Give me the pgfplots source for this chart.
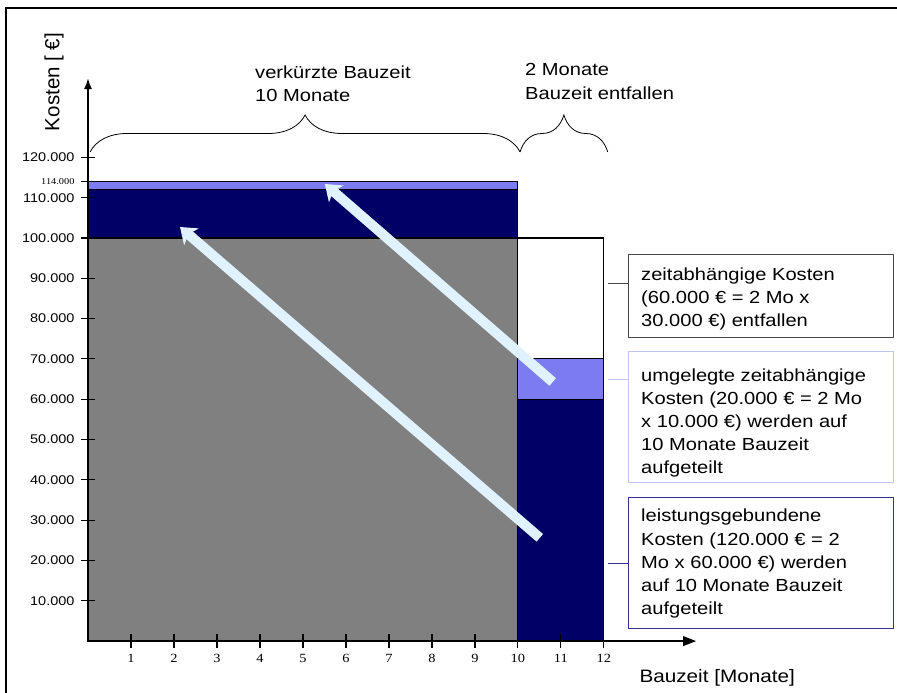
\documentclass[border=0pt]{standalone}
\usepackage{fontspec}
\setmainfont[FakeStretch=1.15]{Liberation Sans}
\newfontfamily\uprightsans{Liberation Sans}
\newfontfamily\tickserif[FakeStretch=1.15]{Liberation Serif}
\usepackage{pgfplots}
\pgfplotsset{compat=1.18}
\usetikzlibrary{decorations.pathreplacing, arrows.meta}

\definecolor{darknavy}{RGB}{0,0,102}
\definecolor{periwinkle}{RGB}{124,124,240}
\definecolor{barGray}{RGB}{128,128,128}
\definecolor{arrowBlue}{RGB}{224,242,255}
\definecolor{boxGray}{RGB}{70,70,70}
\definecolor{boxLav}{RGB}{196,196,240}
\definecolor{boxNavy}{RGB}{50,50,140}

\newcommand{\boxfont}{\fontsize{17.5}{23.3}\selectfont}

\begin{document}
\begin{tikzpicture}[x=1pt,y=1pt]
\useasboundingbox (0,0) rectangle (897,-693);
% outer frame
\draw[line width=2pt] (6,-700) -- (6,-8) -- (905,-8);

\begin{axis}[
  at={(88pt,-641pt)}, anchor=south west,
  scale only axis, width=607pt, height=563pt,
  xmin=0, xmax=14.12, ymin=0, ymax=139700,
  clip=false, axis on top,
  axis x line=bottom, axis y line=left,
  x axis line style={line width=2pt, -{Latex[length=12pt,width=9pt]}},
  y axis line style={line width=1.8pt, -{Latex[length=11pt,width=8pt]}},
  tick align=center, major tick length=14pt,
  tick style={line width=1.2pt, black},
  scaled y ticks=false, scaled x ticks=false,
  /pgf/number format/assume math mode=true,
  xtick={1,...,12},
  xticklabels={1,2,3,4,5,6,7,8,9,10,11,12},
  xticklabel style={font=\tickserif\fontsize{12.5}{14}\selectfont, yshift=-3pt},
  ytick={10000,20000,30000,40000,50000,60000,70000,80000,90000,100000,110000,120000},
  yticklabels={10.000,20.000,30.000,40.000,50.000,60.000,70.000,80.000,90.000,100.000,110.000,120.000},
  yticklabel style={font=\fontsize{12.6}{14}\selectfont, anchor=east, xshift=-3pt},
  extra y ticks={114000},
  extra y tick labels={114.000},
  extra y tick style={yticklabel style={font=\tickserif\fontsize{9}{10}\selectfont}},
]
% shortened construction period: 10 months
\addplot[fill=barGray, draw=black, line width=1.2pt] coordinates {(0,0) (0,100000) (10,100000) (10,0)} -- cycle;
\addplot[fill=darknavy, draw=black, line width=1.2pt] coordinates {(0,100000) (0,112000) (10,112000) (10,100000)} -- cycle;
\addplot[fill=periwinkle, draw=black, line width=1.2pt] coordinates {(0,112000) (0,114000) (10,114000) (10,112000)} -- cycle;
% two dropped months
\addplot[fill=darknavy, draw=black, line width=1.2pt] coordinates {(10,0) (10,60000) (12,60000) (12,0)} -- cycle;
\addplot[fill=periwinkle, draw=black, line width=1.2pt] coordinates {(10,60000) (10,70000) (12,70000) (12,60000)} -- cycle;
\addplot[fill=white, draw=black, line width=1.2pt] coordinates {(10,70000) (10,100000) (12,100000) (12,70000)} -- cycle;

% redistribution arrows
\draw[arrowBlue, line width=10pt, -{Stealth[length=15pt, width=22pt, inset=4pt]}]
  (axis cs:10.51,25600) -- (axis cs:2.14,102730);
\draw[arrowBlue, line width=10pt, -{Stealth[length=15pt, width=22pt, inset=4pt]}]
  (axis cs:10.81,64270) -- (axis cs:5.51,113400);

% braces
\draw[decorate, decoration={brace, amplitude=37pt}, line width=0.8pt]
  (axis cs:0.05,121340) -- (axis cs:10.05,121340);
\draw[decorate, decoration={brace, amplitude=37pt}, line width=0.8pt]
  (axis cs:10.05,121340) -- (axis cs:12.09,121340);
\end{axis}

% time axis drawn once more on top, as a filled strip with a triangular head
\fill[black] (87,-640) rectangle (684,-642.2);
\fill[black] (696,-641.1) -- (683,-636) -- (683,-646.2) -- cycle;

% axis titles
\node[rotate=90, font=\uprightsans\fontsize{20.5}{22}\selectfont] at (54,-82) {Kosten [ €]};
\node[anchor=base west, font=\fontsize{18}{20}\selectfont] at (636,-682) {Bauzeit [Monate]};

% brace captions
\node[anchor=base west, font=\boxfont, inner sep=0pt] at (255,-78.3) {verkürzte Bauzeit};
\node[anchor=base west, font=\boxfont, inner sep=0pt] at (255,-101) {10 Monate};
\node[anchor=base west, font=\boxfont, inner sep=0pt] at (525,-76) {2 Monate};
\node[anchor=base west, font=\boxfont, inner sep=0pt] at (525,-99.3) {Bauzeit entfallen};

% explanation boxes
\draw[boxGray, line width=1pt] (608,-283) -- (628,-283);
\draw[boxGray, line width=1pt] (628,-254) rectangle (893,-337);
\foreach \t [count=\i from 0] in {{zeitabhängige Kosten}, {(60.000 € = 2 Mo x}, {30.000 €) entfallen}}
  \node[anchor=base west, font=\boxfont, inner sep=0pt] at (641,-280-23.3*\i) {\t};

\draw[boxLav, line width=1pt] (608,-379) -- (628,-379);
\draw[boxLav, line width=1pt] (628,-351) rectangle (893,-482);
\foreach \t [count=\i from 0] in {{umgelegte zeitabhängige}, {Kosten (20.000 € = 2 Mo}, {x 10.000 €) werden auf}, {10 Monate Bauzeit}, {aufgeteilt}}
  \node[anchor=base west, font=\boxfont, inner sep=0pt] at (641,-381-23*\i) {\t};

\draw[boxNavy, line width=1pt] (608,-563) -- (628,-563);
\draw[boxNavy, line width=1pt] (628,-497) rectangle (893,-628);
\foreach \t [count=\i from 0] in {{leistungsgebundene}, {Kosten (120.000 € = 2}, {Mo x 60.000 €) werden}, {auf 10 Monate Bauzeit}, {aufgeteilt}}
  \node[anchor=base west, font=\boxfont, inner sep=0pt] at (641,-521.7-23.3*\i) {\t};
\end{tikzpicture}
\end{document}
